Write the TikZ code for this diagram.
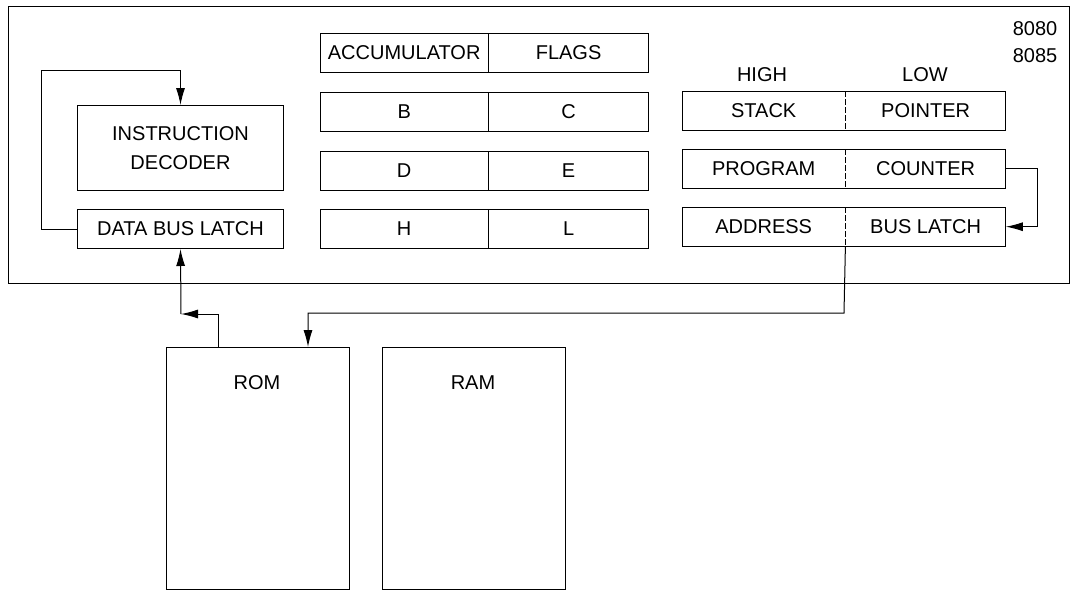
\documentclass[tikz,border=0pt]{standalone}
\usepackage{fontspec}
\setmainfont{Liberation Sans}
\usetikzlibrary{arrows.meta,calc}
\tikzset{
  arr/.style={line width=1pt, -{Latex[length=17pt,width=9pt]}}
}
\begin{document}
\begin{tikzpicture}[x=1pt,y=-1pt,
  every node/.style={font=\fontsize{20}{23}\selectfont, inner sep=0pt},
  box/.style={draw, line width=1pt, minimum height=39pt, anchor=north west},
  half/.style={minimum height=39pt, anchor=north west},
  ln/.style={line width=1pt}]
\useasboundingbox (0,0) rectangle (1074,590);
% outer CPU box
\node[draw, line width=1pt, anchor=north west, minimum width=1061pt, minimum height=277pt] (cpu) at (8,6) {};
\node (n8080) at (1035,29) {8080};
\node (n8085) at (1035,56) {8085};
% instruction decoder and data bus latch
\node[box, minimum width=206pt, minimum height=85pt, align=center] (dec) at (77,105) {INSTRUCTION\\[6pt]DECODER};
\node[box, minimum width=206pt] (dbl) at (77,209) {DATA BUS LATCH};
% register file
\node[half, minimum width=168pt] (acc) at (320,33) {ACCUMULATOR};
\node[half, minimum width=160pt] (flg) at (acc.north east) {FLAGS};
\node[half, minimum width=168pt] (rb) at (320,92) {B};
\node[half, minimum width=160pt] (rc) at (rb.north east) {C};
\node[half, minimum width=168pt] (rd) at (320,151) {D};
\node[half, minimum width=160pt] (re) at (rd.north east) {E};
\node[half, minimum width=168pt] (rh) at (320,209) {H};
\node[half, minimum width=160pt] (rl) at (rh.north east) {L};
\foreach \a/\b in {acc/flg,rb/rc,rd/re,rh/rl}{
  \draw[ln] (\a.north west) rectangle (\b.south east);
  \draw[ln] (\a.north east) -- (\a.south east);
}
% right side registers
\node (high) at (762,75) {HIGH};
\node (low) at (925,75) {LOW};
\node[half, minimum width=163pt] (spH) at (682,91) {STACK};
\node[half, minimum width=160pt] (spL) at (spH.north east) {POINTER};
\node[half, minimum width=163pt] (pcH) at (682,149) {PROGRAM};
\node[half, minimum width=160pt] (pcL) at (pcH.north east) {COUNTER};
\node[half, minimum width=163pt] (abH) at (682,207) {ADDRESS};
\node[half, minimum width=160pt] (abL) at (abH.north east) {BUS LATCH};
\foreach \a/\b in {spH/spL,pcH/pcL,abH/abL}{
  \draw[ln] (\a.north west) rectangle (\b.south east);
  \draw[ln, dash pattern=on 6pt off 2pt] (\a.north east) -- (\a.south east);
}
% memories
\node[draw, line width=1pt, anchor=north west, minimum width=183pt, minimum height=242pt] (rom) at (166,347) {};
\node (romt) at (257,383) {ROM};
\node[draw, line width=1pt, anchor=north west, minimum width=183pt, minimum height=242pt] (ram) at (382,347) {};
\node (ramt) at (473,383) {RAM};
% connectors
\coordinate (loop) at (41,70);
\draw[arr] (dbl.west) -| (loop) -| (dec.north);
\draw[arr] (pcL.east) -- ++(32,0) |- (abL.east);
\coordinate (abus) at (844,313);
\draw[arr] (abH.south east) -- (abus) -| ($(rom.north west)+(142,0)$);
\coordinate (dbc) at (199,314);
\coordinate (dbk) at (181,314);
\draw[ln] ($(rom.north west)+(52,0)$) |- (dbc);
\draw[arr] (dbc) -- (dbk);
\draw[arr] (dbk) -- (dbl.south);
\end{tikzpicture}
\end{document}
